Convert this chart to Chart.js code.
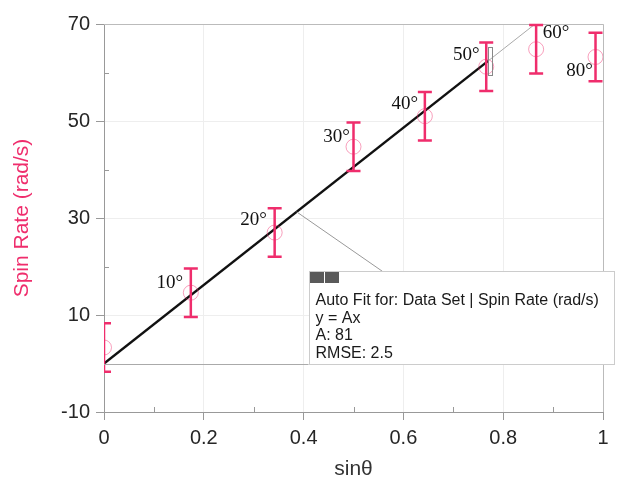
<!DOCTYPE html>
<html>
<head>
<meta charset="utf-8">
<script src="https://cdn.jsdelivr.net/npm/chart.js@4.4.1/dist/chart.umd.min.js"></script>
<style>
  html, body { margin: 0; padding: 0; background: #fff; }
  #wrap { width: 620px; height: 485px; }
</style>
</head>
<body>
<div id="wrap"><canvas id="myChart" width="620" height="485"></canvas></div>
<script>
// measured data (angle, sin of angle, spin rate, error)
var angleLabels = ['', '10°', '20°', '30°', '40°', '50°', '60°', '80°'];
var sinTheta = [0, 0.174, 0.342, 0.5, 0.643, 0.766, 0.866, 0.985];
var spinRate = [3.3, 14.6, 27.0, 44.7, 51.0, 61.2, 64.8, 63.2];
var spinError = [5, 5, 5, 5, 5, 5, 5, 5];

// fit y = Ax, A = 81 : fitted range and its extension
var fitX = [0, 0.77];
var fitY = [0, 62.4];
var extX = [0.77, 0.864];
var extY = [62.4, 70];

var fitText = ['Auto Fit for: Data Set | Spin Rate (rad/s)', 'y = Ax', 'A: 81', 'RMSE: 2.5'];

// label offsets in px (left/up of each point)
var labelDx = [0, -21, -21, -17, -20, -20, 20, -16];
var labelDy = [0, -10, -13, -10, -12, -12, -16, 14];

var pink = '#ef2d6c';

function toPts(xs, ys) {
  var out = [];
  for (var i = 0; i < xs.length; i++) out.push({ x: xs[i], y: ys[i] });
  return out;
}

var overlay = {
  id: 'overlay',
  afterDatasetsDraw: function (chart) {
    var ctx = chart.ctx;
    var xs = chart.scales.x, ys = chart.scales.y;
    var a = chart.chartArea;

    // frame top / right
    ctx.save();
    ctx.strokeStyle = '#bbb';
    ctx.lineWidth = 1;
    ctx.beginPath();
    ctx.moveTo(a.left, a.top + 0.5);
    ctx.lineTo(a.right + 0.5, a.top + 0.5);
    ctx.lineTo(a.right + 0.5, a.bottom);
    ctx.stroke();

    // minor ticks (inward)
    ctx.strokeStyle = '#999';
    ctx.beginPath();
    for (var v = 0.1; v < 1; v += 0.2) {
      var px = Math.round(xs.getPixelForValue(v)) + 0.5;
      ctx.moveTo(px, a.bottom); ctx.lineTo(px, a.bottom - 5);
    }
    for (var w = 0; w <= 60; w += 20) {
      var py = Math.round(ys.getPixelForValue(w)) + 0.5;
      ctx.moveTo(a.left, py); ctx.lineTo(a.left + 5, py);
    }
    ctx.stroke();
    ctx.restore();

    // error bars, clipped to plot area
    ctx.save();
    ctx.beginPath();
    ctx.rect(a.left, a.top - 4, a.right - a.left + 4, a.bottom - a.top + 4);
    ctx.clip();
    ctx.strokeStyle = pink;
    ctx.lineWidth = 2.5;
    for (var i = 0; i < sinTheta.length; i++) {
      var x = xs.getPixelForValue(sinTheta[i]);
      var y1 = ys.getPixelForValue(spinRate[i] + spinError[i]);
      var y2 = ys.getPixelForValue(spinRate[i] - spinError[i]);
      ctx.beginPath();
      ctx.moveTo(x, y1); ctx.lineTo(x, y2);
      ctx.moveTo(x - 7, y1); ctx.lineTo(x + 7, y1);
      ctx.moveTo(x - 7, y2); ctx.lineTo(x + 7, y2);
      ctx.stroke();
    }
    ctx.restore();

    // fit range end marker
    ctx.save();
    ctx.strokeStyle = '#888';
    ctx.lineWidth = 1;
    var ex = xs.getPixelForValue(fitX[1]);
    var ey = ys.getPixelForValue(fitY[1]);
    ctx.strokeRect(Math.round(ex) + 0.5, Math.round(ey) - 13.5, 4, 28);

    // angle labels
    ctx.fillStyle = '#111';
    ctx.font = '19px "Liberation Serif", "DejaVu Serif", serif';
    ctx.textAlign = 'center';
    ctx.textBaseline = 'middle';
    for (var k = 0; k < angleLabels.length; k++) {
      if (!angleLabels[k]) continue;
      ctx.fillText(angleLabels[k],
        xs.getPixelForValue(sinTheta[k]) + labelDx[k],
        ys.getPixelForValue(spinRate[k]) + labelDy[k]);
    }

    // connector from fit line to the annotation box
    ctx.strokeStyle = '#999';
    ctx.beginPath();
    ctx.moveTo(xs.getPixelForValue(0.386), ys.getPixelForValue(81 * 0.386));
    ctx.lineTo(xs.getPixelForValue(0.558), ys.getPixelForValue(19));
    ctx.stroke();

    // baseline along y = 0 under the fit
    ctx.strokeStyle = '#aaa';
    ctx.beginPath();
    var by = Math.round(ys.getPixelForValue(0)) + 0.5;
    ctx.moveTo(a.left, by);
    ctx.lineTo(xs.getPixelForValue(0.41), by);
    ctx.stroke();

    // annotation box
    var bx0 = Math.round(xs.getPixelForValue(0.41)) + 0.5;
    var bx1 = Math.round(xs.getPixelForValue(1.023)) + 0.5;
    var by0 = Math.round(ys.getPixelForValue(19)) + 0.5;
    var by1 = by;
    ctx.fillStyle = '#fff';
    ctx.fillRect(bx0, by0, bx1 - bx0, by1 - by0);
    ctx.strokeStyle = '#ccc';
    ctx.strokeRect(bx0, by0, bx1 - bx0, by1 - by0);
    ctx.fillStyle = '#5a5a5a';
    ctx.fillRect(bx0 + 0.5, by0 + 0.5, 14, 11);
    ctx.fillRect(bx0 + 15.5, by0 + 0.5, 14, 11);

    ctx.fillStyle = '#1a1a1a';
    ctx.font = '16px "Liberation Sans", Arial, sans-serif';
    ctx.textAlign = 'left';
    ctx.textBaseline = 'middle';
    for (var t = 0; t < fitText.length; t++) {
      ctx.fillText(fitText[t], bx0 + 6, by0 + 29 + t * 17.7);
    }
    ctx.restore();
  }
};

var ctx = document.getElementById('myChart').getContext('2d');
new Chart(ctx, {
  type: 'scatter',
  data: {
    datasets: [
      {
        label: 'Spin Rate',
        data: toPts(sinTheta, spinRate),
        pointRadius: 7.5,
        pointBorderWidth: 1,
        pointBorderColor: 'rgba(239,45,108,0.45)',
        pointBackgroundColor: 'rgba(0,0,0,0)',
        clip: 0
      },
      {
        label: 'fit',
        data: toPts(fitX, fitY),
        showLine: true,
        borderColor: '#111',
        borderWidth: 2.5,
        pointRadius: 0
      },
      {
        label: 'ext',
        data: toPts(extX, extY),
        showLine: true,
        borderColor: '#aaa',
        borderWidth: 1,
        pointRadius: 0
      }
    ]
  },
  options: {
    responsive: false,
    animation: false,
    layout: { padding: { top: 24, right: 17, left: 0, bottom: 0 } },
    plugins: { legend: { display: false }, tooltip: { enabled: false } },
    scales: {
      x: {
        type: 'linear',
        min: 0, max: 1,
        afterFit: function (s) { s.height = 73; },
        ticks: {
          stepSize: 0.2,
          padding: 6,
          color: '#262626',
          font: { family: '"Liberation Sans", Arial, sans-serif', size: 20 },
          callback: function (v) { return v === 0 || v === 1 ? String(v) : v.toFixed(1); }
        },
        grid: { color: '#eeeeee', tickLength: 8, tickColor: '#999' },
        border: { color: '#999' },
        title: {
          display: true, text: 'sinθ', color: '#333',
          font: { family: '"Liberation Sans", Arial, sans-serif', size: 21 },
          padding: { top: 0, bottom: 3 }
        }
      },
      y: {
        type: 'linear',
        min: -10, max: 70,
        afterFit: function (s) { s.width = 104; },
        ticks: {
          stepSize: 20,
          padding: 6,
          color: '#262626',
          font: { family: '"Liberation Sans", Arial, sans-serif', size: 20 }
        },
        grid: { color: '#eeeeee', tickLength: 8, tickColor: '#999' },
        border: { color: '#999' },
        title: {
          display: true, text: 'Spin Rate (rad/s)', color: pink,
          font: { family: '"Liberation Sans", Arial, sans-serif', size: 21 },
          padding: { top: 10, bottom: 0 }
        }
      }
    }
  },
  plugins: [overlay]
});
</script>
</body>
</html>
